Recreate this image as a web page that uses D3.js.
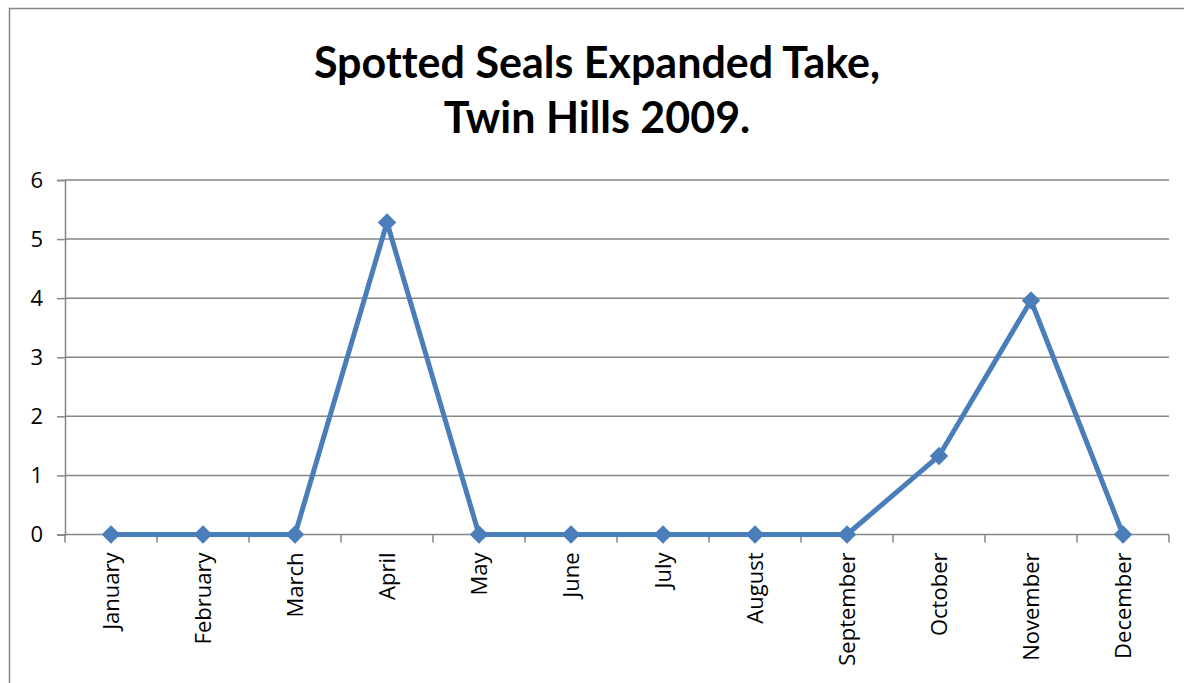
<!DOCTYPE html>
<html><head><meta charset="utf-8">
<script src="https://cdn.jsdelivr.net/npm/d3@7"></script>
<style>body{margin:0;background:#fff}svg{display:block}text{font-variant-ligatures:none;font-feature-settings:"liga" 0}</style>
</head><body>
<svg id="c" width="1184" height="683"></svg>
<script>
const months = ["January","February","March","April","May","June","July","August","September","October","November","December"];
const takeValues = [0,0,0,5.28,0,0,0,0,0,1.33,3.96,0];
const yTicks = [0,1,2,3,4,5,6];
const titleLines = ["Spotted Seals Expanded Take,","Twin Hills 2009."];

const svg = d3.select("#c");
const m = {left:65, right:1169, top:180, bottom:534.5};
const FONT = "'Open Sans', sans-serif";

svg.append("rect").attr("x",9.5).attr("y",8.5).attr("width",1200).attr("height",700)
  .attr("fill","#fff").attr("stroke","#868686").attr("stroke-width",1.5);

const x = d3.scaleBand().domain(months).range([m.left,m.right]).padding(0);
const y = d3.scaleLinear().domain([0,6]).range([m.bottom,m.top]);

const yAxis = d3.axisLeft(y).tickValues(yTicks).tickSize(8).tickFormat(d3.format("d"));
const gy = svg.append("g").attr("transform",`translate(${m.left},0)`).call(yAxis);
gy.select(".domain").attr("stroke","#868686").attr("stroke-width",1.5);
gy.selectAll(".tick line").attr("stroke","#868686").attr("stroke-width",1.5);
gy.selectAll(".tick text").attr("font-family",FONT).attr("font-size",22).attr("fill","#000").attr("x",-22);
svg.append("g").selectAll("line").data(yTicks.filter(d=>d>0)).join("line")
  .attr("x1",m.left).attr("x2",m.right).attr("y1",d=>y(d)).attr("y2",d=>y(d))
  .attr("stroke","#868686").attr("stroke-width",1.5);

const gx = svg.append("g").attr("transform",`translate(0,${m.bottom})`);
gx.append("line").attr("x1",m.left).attr("x2",m.right).attr("stroke","#868686").attr("stroke-width",1.5);
const bounds = months.map(d=>x(d)).concat([m.right]);
gx.selectAll("line.t").data(bounds).join("line").attr("class","t")
  .attr("x1",d=>d).attr("x2",d=>d).attr("y1",0).attr("y2",8)
  .attr("stroke","#868686").attr("stroke-width",1.5);
gx.selectAll("text").data(months).join("text")
  .attr("transform",d=>`translate(${x(d)+x.bandwidth()/2+8},18) rotate(-90)`)
  .attr("text-anchor","end").attr("font-family",FONT).attr("font-size",22).attr("fill","#000")
  .text(d=>d);

const line = d3.line().x((d,i)=>x(months[i])+x.bandwidth()/2).y(d=>y(d));
svg.append("path").datum(takeValues).attr("d",line).attr("fill","none")
  .attr("stroke","#4A7EBB").attr("stroke-width",5).attr("stroke-linejoin","round");
svg.append("g").selectAll("path").data(takeValues).join("path")
  .attr("d",d3.symbol().type(d3.symbolSquare).size(170))
  .attr("transform",(d,i)=>`translate(${x(months[i])+x.bandwidth()/2},${y(d)}) rotate(45)`)
  .attr("fill","#4A7EBB");

const tY = [78,133];
titleLines.forEach((t,i)=>{
  svg.append("text").attr("x",597).attr("y",tY[i])
    .attr("text-anchor","middle").attr("font-family","Lato, 'Open Sans', sans-serif")
    .attr("font-weight","bold").attr("font-size",43).attr("fill","#000").text(t);
});
</script>
</body></html>
